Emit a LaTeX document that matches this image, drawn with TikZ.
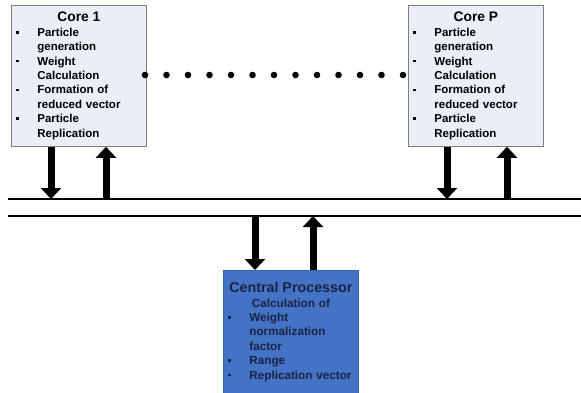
\documentclass[tikz,border=0pt]{standalone}
\usepackage{fontspec}
\setmainfont{Liberation Sans}
\usetikzlibrary{arrows.meta,positioning}

\definecolor{corefill}{HTML}{E9EEF7}
\definecolor{coreline}{HTML}{7F7F7F}
\definecolor{cpufill}{HTML}{4472C4}
\definecolor{cpuline}{HTML}{3A62AE}
\definecolor{cputext}{HTML}{1A2346}

% square bullet and the indent of a wrapped line
\newcommand{\sqbullet}{\makebox[22pt][l]{\hspace{1pt}\rule[2.8pt]{2.6pt}{2.6pt}}}
\newcommand{\itemgap}{\hspace*{22pt}}

\begin{document}
\begin{tikzpicture}[x=1pt, y=-1pt,
    corebox/.style={draw=coreline, fill=corefill, line width=0.8pt, anchor=north west,
      minimum width=135pt, minimum height=141pt, text width=127pt, inner sep=4pt,
      align=left, font=\fontsize{11.5}{14.4}\selectfont\bfseries},
    cpubox/.style={corebox, draw=cpuline, fill=cpufill, text=cputext,
      minimum height=123pt, font=\fontsize{11.7}{14.4}\selectfont\bfseries},
    bus/.style={line width=2pt},
    bigarrow/.style={-{Triangle[width=20pt,length=11pt]}, line width=7pt}]
    \useasboundingbox (0,0) rectangle (581,392);

    % Cores
    \node[corebox] (core1) at (11,5) {{\centering\fontsize{13.8}{16.4}\selectfont Core 1\par}
      \sqbullet Particle\\ \itemgap generation\par
      \sqbullet Weight\\ \itemgap Calculation\par
      \sqbullet Formation of\\ \itemgap reduced vector\par
      \sqbullet Particle\\ \itemgap Replication};
    \node[corebox] (coreP) at (408,5) {{\centering\fontsize{13.8}{16.4}\selectfont Core P\par}
      \sqbullet Particle\\ \itemgap generation\par
      \sqbullet Weight\\ \itemgap Calculation\par
      \sqbullet Formation of\\ \itemgap reduced vector\par
      \sqbullet Particle\\ \itemgap Replication};

    % dots between the cores
    \foreach \i in {0,...,12}
        \fill (145+21.5*\i,75) circle (3.3pt);

    % Central processor
    \node[cpubox] (cpu) at (223,270) {{\centering\fontsize{14.3}{17}\selectfont Central Processor\par}
      {\centering Calculation of\par}
      \sqbullet Weight\\ \itemgap normalization\\ \itemgap factor\par
      \sqbullet Range\par
      \sqbullet Replication vector};

    % Bus
    \coordinate (busAw) at (8,199);
    \coordinate (busAe) at (581,199);
    \coordinate (busBw) at (8,216);
    \coordinate (busBe) at (581,216);
    \draw[bus] (busAw) -- (busAe);
    \draw[bus] (busBw) -- (busBe);

    % Arrows to and from the bus
    \coordinate (c1down) at (51,199);
    \coordinate (c1up) at (106,199);
    \coordinate (cPdown) at (447,199);
    \coordinate (cPup) at (507,199);
    \coordinate (cpudown) at (255,216);
    \coordinate (cpuup) at (313,216);
    \draw[bigarrow] (core1.south -| c1down) -- (c1down);
    \draw[bigarrow] (c1up) -- (core1.south -| c1up);
    \draw[bigarrow] (coreP.south -| cPdown) -- (cPdown);
    \draw[bigarrow] (cPup) -- (coreP.south -| cPup);
    \draw[bigarrow] (cpudown) -- (cpu.north -| cpudown);
    \draw[bigarrow] (cpu.north -| cpuup) -- (cpuup);
\end{tikzpicture}
\end{document}
